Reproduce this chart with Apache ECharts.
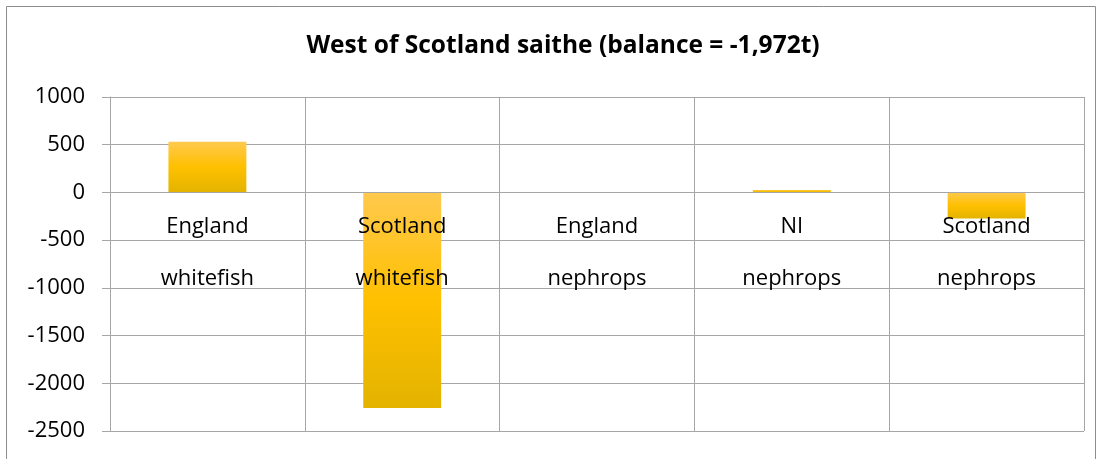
<!DOCTYPE html>
<html>
<head>
<meta charset="utf-8">
<script src="https://cdn.jsdelivr.net/npm/echarts@6/dist/echarts.min.js"></script>
<style>
  html, body { margin: 0; padding: 0; background: #fff; }
  #chart { width: 1102px; height: 459px; }
</style>
</head>
<body>
<div id="chart"></div>
<script>
// Quota balance by fleet segment, tonnes
const chartTitle = 'West of Scotland saithe (balance = -1,972t)';
const categories = ['England\nwhitefish', 'Scotland\nwhitefish', 'England\nnephrops', 'NI\nnephrops', 'Scotland\nnephrops'];
const balances = [530, -2260, 5, 25, -272];
const yTicks = { min: -2500, max: 1000, interval: 500 };

const font = '"Open Sans", "Liberation Sans", sans-serif';
const gridColor = '#A6A6A6';

const chart = echarts.init(document.getElementById('chart'));
chart.setOption({
  backgroundColor: '#fff',
  animation: false,
  title: {
    text: chartTitle,
    left: 558,
    textAlign: 'center',
    top: 29,
    textStyle: { fontFamily: font, fontSize: 24.5, fontWeight: 'bold', color: '#000' }
  },
  graphic: [{
    type: 'rect',
    shape: { x: 6.5, y: 6.5, width: 1089, height: 470 },
    style: { fill: 'none', stroke: '#8C8C8C', lineWidth: 1 },
    silent: true
  }],
  grid: { left: 110, right: 18, top: 97, bottom: 28, outerBoundsMode: 'none' },
  xAxis: {
    type: 'category',
    data: categories,
    z: 5,
    offset: 0,
    axisLine: { onZero: false, lineStyle: { color: gridColor } },
    axisTick: { show: false },
    splitLine: { show: true, lineStyle: { color: gridColor, width: 1 } },
    axisLabel: {
      color: '#000',
      fontFamily: font,
      fontSize: 22,
      lineHeight: 52,
      margin: 8,
      interval: 0
    }
  },
  yAxis: {
    type: 'value',
    min: yTicks.min,
    max: yTicks.max,
    interval: yTicks.interval,
    axisLine: { show: true, lineStyle: { color: gridColor } },
    axisTick: { show: true, length: 8, lineStyle: { color: gridColor } },
    splitLine: { show: true, lineStyle: { color: gridColor, width: 1 } },
    axisLabel: { color: '#000', fontFamily: font, fontSize: 22, margin: 25, formatter: v => String(v) }
  },
  series: [{
    type: 'bar',
    data: balances,
    barWidth: '40%',
    itemStyle: {
      color: new echarts.graphic.LinearGradient(0, 0, 0, 1, [
        { offset: 0, color: '#FFC94D' },
        { offset: 0.5, color: '#FFC000' },
        { offset: 1, color: '#E3B300' }
      ])
    }
  }]
});

// Lift the category axis so it crosses the value axis at zero
const zeroY = chart.convertToPixel({ yAxisIndex: 0 }, 0);
const baseY = chart.convertToPixel({ yAxisIndex: 0 }, yTicks.min);
chart.setOption({ xAxis: { offset: zeroY - baseY } });
</script>
</body>
</html>
